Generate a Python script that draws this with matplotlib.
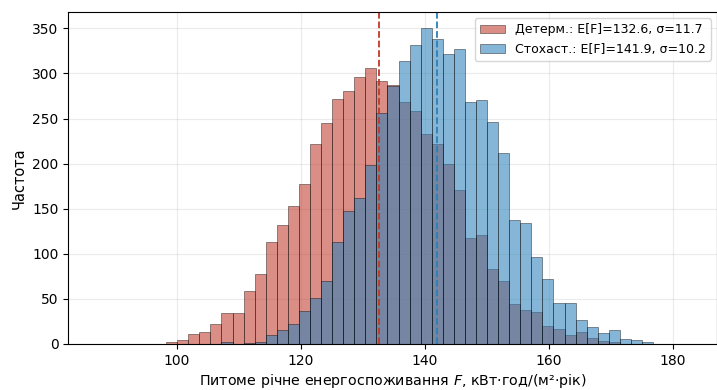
import numpy as np
import matplotlib
matplotlib.use("Agg")
import matplotlib.pyplot as plt

# bin layout shared by both histograms (44 bins)
bin_start = 98.3
bin_end = 176.8
n_bins = 44

# counts per bin
determ_counts = [2, 4, 11, 13, 22, 34, 34, 59, 78, 113,
                 132, 153, 177, 222, 245, 272, 281, 296, 306, 292,
                 287, 268, 258, 233, 222, 200, 171, 117, 121, 83,
                 70, 44, 38, 35, 20, 17, 10, 13, 7, 3,
                 2, 0, 0, 0]
stoch_counts = [0, 0, 0, 0, 0, 2, 0, 1, 2, 10,
                16, 22, 37, 51, 70, 113, 147, 162, 199, 256,
                286, 314, 331, 350, 338, 322, 327, 268, 271, 246,
                212, 137, 134, 96, 72, 45, 45, 27, 19, 12,
                15, 6, 4, 2]

mean_determ, sd_determ = 132.6, 11.7
mean_stoch, sd_stoch = 141.9, 10.2

red = "#c0392b"
blue = "#2980b9"

edges = np.linspace(bin_start, bin_end, n_bins + 1)
centers = (edges[:-1] + edges[1:]) / 2

fig = plt.figure(figsize=(7.17, 3.9), dpi=100)
ax = fig.add_axes([0.095, 0.118, 0.905, 0.851])

ax.hist(centers, bins=edges, weights=determ_counts, color=red, alpha=0.57,
        edgecolor="black", linewidth=0.5,
        label=f"Детерм.: E[F]={mean_determ}, σ={sd_determ}")
ax.hist(centers, bins=edges, weights=stoch_counts, color=blue, alpha=0.57,
        edgecolor="black", linewidth=0.5,
        label=f"Стохаст.: E[F]={mean_stoch}, σ={sd_stoch}")

ax.axvline(mean_determ, color=red, linestyle="--", linewidth=1.3)
ax.axvline(mean_stoch, color=blue, linestyle="--", linewidth=1.3)

ax.set_xlim(82.5, 187.1)
ax.set_ylim(0, 368)
ax.set_xticks([100, 120, 140, 160, 180])
ax.set_yticks(range(0, 351, 50))
ax.grid(True, alpha=0.25)
ax.set_axisbelow(True)
ax.tick_params(labelsize=10)

ax.set_xlabel("Питоме річне енергоспоживання $F$, кВт·год/(м²·рік)",
              fontsize=10.3, labelpad=3)
ax.set_ylabel("Частота", fontsize=10.5)
ax.legend(loc="upper right", fontsize=9)

fig.savefig("out.png", dpi=100)
